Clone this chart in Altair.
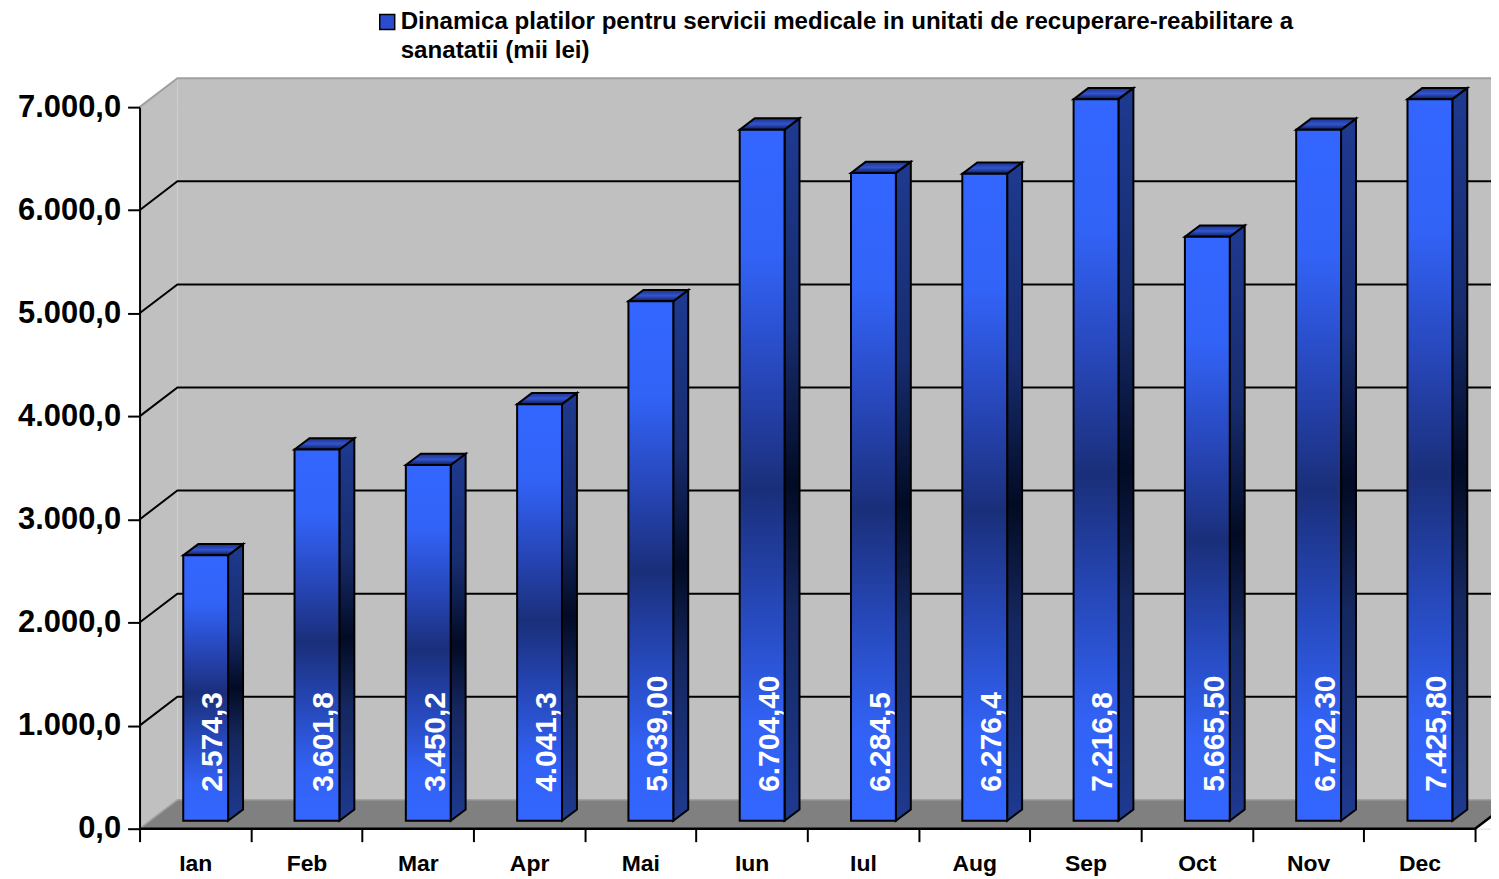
import altair as alt
import pandas as pd

# ---------------- data ----------------
months = ["Ian", "Feb", "Mar", "Apr", "Mai", "Iun", "Iul", "Aug", "Sep", "Oct", "Nov", "Dec"]
values = [2574.3, 3601.8, 3450.2, 4041.3, 5039.00, 6704.40, 6284.5, 6276.4, 7216.8, 5665.50, 6702.30, 7425.80]
decimals = [1, 1, 1, 1, 2, 2, 1, 1, 1, 2, 2, 2]
series_name = "Dinamica platilor pentru servicii medicale in unitati de recuperare-reabilitare a sanatatii (mii lei)"
legend_lines = ["Dinamica platilor pentru servicii medicale in unitati de recuperare-reabilitare a",
                "sanatatii (mii lei)"]
y_tick_values = [0, 1000, 2000, 3000, 4000, 5000, 6000, 7000]
grid_values = [1000, 2000, 3000, 4000, 5000, 6000]
Y_MAX = 7000

# ---------------- layout (pixels -> scale units) ----------------
FONT = "Liberation Sans"
PAD_L, PAD_T, PAD_B = 132, 98, 48
W, H = 1356, 724
CAT_PX = 111.67
XMAX = W / CAT_PX
PX_X = 1.0 / CAT_PX
PX_Y = Y_MAX / H
N = len(months)

BACK_DX, BACK_DY = 38 * PX_X, 29 * PX_Y
BAR_DX0, BAR_DY0 = 10.5 * PX_X, 8 * PX_Y
BAR_HALF = 22.5 * PX_X
SIDE_DX, SIDE_DY = 15 * PX_X, 11.3 * PX_Y


def ro_fmt(v, d):
    s = f"{v:,.{d}f}"
    return s.replace(",", "#").replace(".", ",").replace("#", ".")


front_rows, side_rows, top_rows = [], [], []
for i, (m, v, d) in enumerate(zip(months, values, decimals)):
    shown = min(v, Y_MAX)
    c = i + 0.5 + BAR_DX0
    l, r = c - BAR_HALF, c + BAR_HALF
    b, t = BAR_DY0, BAR_DY0 + shown
    front_rows.append(dict(month=m, value=v, x=l, x2=r, y=b, y2=t, label=ro_fmt(v, d),
                           lx=c + 7.5 * PX_X, ly=37 * PX_Y))
    side_rows += [dict(month=m, x=r, y=t, y2=b),
                  dict(month=m, x=r + SIDE_DX, y=t + SIDE_DY, y2=b + SIDE_DY)]
    top_rows += [dict(month=m, y=t, x=l, x2=r),
                 dict(month=m, y=t + SIDE_DY, x=l + SIDE_DX, x2=r + SIDE_DX)]

front_df = pd.DataFrame(front_rows)
side_df = pd.DataFrame(side_rows)
top_df = pd.DataFrame(top_rows)

side_wall_df = pd.DataFrame([dict(x=0, y=Y_MAX, y2=0),
                             dict(x=BACK_DX, y=Y_MAX + BACK_DY, y2=BACK_DY)])
back_wall_df = pd.DataFrame([dict(x=BACK_DX, x2=XMAX + 1, y=BACK_DY, y2=Y_MAX + BACK_DY)])
floor_df = pd.DataFrame([dict(y=0, x=0, x2=N),
                         dict(y=BACK_DY, x=BACK_DX, x2=N + BACK_DX)])
wall_top_df = pd.DataFrame([dict(x=0, y=Y_MAX), dict(x=BACK_DX, y=Y_MAX + BACK_DY),
                            dict(x=XMAX + 1, y=Y_MAX + BACK_DY)])
floor_back_df = pd.DataFrame([dict(x=0, y=0), dict(x=BACK_DX, y=BACK_DY),
                              dict(x=XMAX + 1, y=BACK_DY)])
grid_rows = []
for g in grid_values:
    grid_rows += [dict(g=g, x=0, y=g), dict(g=g, x=BACK_DX, y=g + BACK_DY),
                  dict(g=g, x=XMAX + 1, y=g + BACK_DY)]
grid_df = pd.DataFrame(grid_rows)
front_edge_df = pd.DataFrame([dict(x=0, y=0), dict(x=N, y=0), dict(x=N + BACK_DX, y=BACK_DY)])
legend_df = pd.DataFrame([dict(series=series_name, x=0, x2=0, y=0, y2=0)])

xs = alt.Scale(domain=[0, XMAX], nice=False, zero=False)
ys = alt.Scale(domain=[0, Y_MAX], nice=False, zero=False)

WALL = "#C0C0C0"
FLOOR = "#808080"
EDGE_LIGHT = "#A0A0A0"


def grad(stops):
    return {"gradient": "linear", "x1": 0, "y1": 0, "x2": 0, "y2": 1,
            "stops": [{"offset": o, "color": c} for o, c in stops]}


front_grad = grad([(0, "#3366FF"), (0.18, "#3263F7"), (0.36, "#2746B8"), (0.52, "#1A2F7A"),
                   (0.68, "#2546B5"), (0.86, "#3262F5"), (1, "#3366FF")])
side_grad = grad([(0, "#1E3A90"), (0.3, "#172C6E"), (0.52, "#020B24"), (0.7, "#15275F"), (1, "#1E3A90")])
top_grad = grad([(0, "#1A3388"), (0.5, "#3354D0"), (1, "#0E1C58")])

month_expr = "[" + ",".join(f"'{m}'" for m in months) + "][floor(datum.value)]"

# walls
side_wall = alt.Chart(side_wall_df).mark_area(orient="vertical", fill=WALL).encode(
    x=alt.X("x:Q", scale=xs, axis=None),
    y=alt.Y("y:Q", scale=ys, axis=alt.Axis(
        orient="left", values=y_tick_values, format=",.1f", title=None, grid=False,
        labelFont=FONT, labelFontSize=31, labelFontWeight="bold", labelColor="black",
        labelPadding=7, tickSize=12, tickWidth=2, tickColor="black",
        domainColor="black", domainWidth=2, zindex=1)),
    y2="y2:Q",
)
back_wall = alt.Chart(back_wall_df).mark_rect(fill=WALL).encode(
    x=alt.X("x:Q", scale=xs, axis=None), x2="x2:Q",
    y=alt.Y("y:Q", scale=ys, axis=None), y2="y2:Q",
)
floor = alt.Chart(floor_df).mark_area(orient="horizontal", fill=FLOOR).encode(
    y=alt.Y("y:Q", scale=ys, axis=None),
    x=alt.X("x:Q", scale=xs, axis=alt.Axis(
        orient="bottom", values=list(range(N + 1)), labels=False, title=None, grid=False,
        domain=False, tickSize=13, tickWidth=2, tickColor="black", zindex=1)),
    x2="x2:Q",
)
wall_top = alt.Chart(wall_top_df).mark_line(color=EDGE_LIGHT, strokeWidth=2).encode(
    x=alt.X("x:Q", scale=xs, axis=None), y=alt.Y("y:Q", scale=ys, axis=None))
floor_back = alt.Chart(floor_back_df).mark_line(color=EDGE_LIGHT, strokeWidth=1.5).encode(
    x=alt.X("x:Q", scale=xs, axis=None), y=alt.Y("y:Q", scale=ys, axis=None))
grid = alt.Chart(grid_df).mark_line(color="black", strokeWidth=2).encode(
    x=alt.X("x:Q", scale=xs, axis=None), y=alt.Y("y:Q", scale=ys, axis=None),
    detail="g:N")
front_edge = alt.Chart(front_edge_df).mark_line(color="black", strokeWidth=2.5).encode(
    x=alt.X("x:Q", scale=xs, axis=None), y=alt.Y("y:Q", scale=ys, axis=None))

# bars
bar_side = alt.Chart(side_df).mark_area(
    orient="vertical", fill=side_grad, stroke="black", strokeWidth=2, strokeJoin="miter").encode(
    x=alt.X("x:Q", scale=xs, axis=None), y=alt.Y("y:Q", scale=ys, axis=None), y2="y2:Q",
    detail="month:N")
bar_top = alt.Chart(top_df).mark_area(
    orient="horizontal", fill=top_grad, stroke="black", strokeWidth=2, strokeJoin="miter").encode(
    y=alt.Y("y:Q", scale=ys, axis=None), x=alt.X("x:Q", scale=xs, axis=None), x2="x2:Q",
    detail="month:N")
bar_front = alt.Chart(front_df).mark_rect(
    fill=front_grad, stroke="black", strokeWidth=2).encode(
    x=alt.X("x:Q", scale=xs, axis=alt.Axis(
        orient="bottom", values=[i + 0.5 for i in range(N)], labelExpr=month_expr, title=None,
        grid=False, domain=False, ticks=False, tickSize=0, labelFont=FONT, labelFontSize=23,
        labelFontWeight="bold", labelColor="black", labelPadding=24, zindex=1)),
    x2="x2:Q",
    y=alt.Y("y:Q", scale=ys, axis=None), y2="y2:Q",
    tooltip=["month:N", "value:Q"],
)
bar_labels = alt.Chart(front_df).mark_text(
    angle=270, align="left", baseline="middle", color="white",
    font=FONT, fontSize=30, fontWeight="bold").encode(
    x=alt.X("lx:Q", scale=xs, axis=None), y=alt.Y("ly:Q", scale=ys, axis=None),
    text="label:N")

legend_layer = alt.Chart(legend_df).mark_rect().encode(
    x=alt.X("x:Q", scale=xs, axis=None), x2="x2:Q",
    y=alt.Y("y:Q", scale=ys, axis=None), y2="y2:Q",
    color=alt.Color("series:N", scale=alt.Scale(range=["#2B4CCF"]), legend=alt.Legend(
        orient="none", legendX=240, legendY=-94, title=None, symbolType="square",
        symbolSize=225, symbolStrokeColor="black", symbolStrokeWidth=1.5,
        labelExpr="''", padding=0, symbolOffset=0)),
)

chart = alt.layer(
    side_wall, back_wall, floor, wall_top, floor_back, grid, front_edge,
    bar_side, bar_top, bar_front, bar_labels, legend_layer,
).resolve_axis(x="independent", y="independent").properties(
    width=W, height=H,
    autosize=alt.AutoSizeParams(type="none"),
    padding={"left": PAD_L, "top": PAD_T, "right": 0, "bottom": PAD_B},
    title=alt.TitleParams(text=legend_lines, anchor="start", frame="group", dx=262,
                          offset=-50, font=FONT, fontSize=24.2, fontWeight="bold",
                          color="black", lineHeight=29),
).configure_view(stroke=None).configure(
    background="white",
    locale={"number": {"decimal": ",", "thousands": ".", "grouping": [3], "currency": ["", ""]}},
)

chart.save("out.html", embed_options={"renderer": "svg", "actions": False})
